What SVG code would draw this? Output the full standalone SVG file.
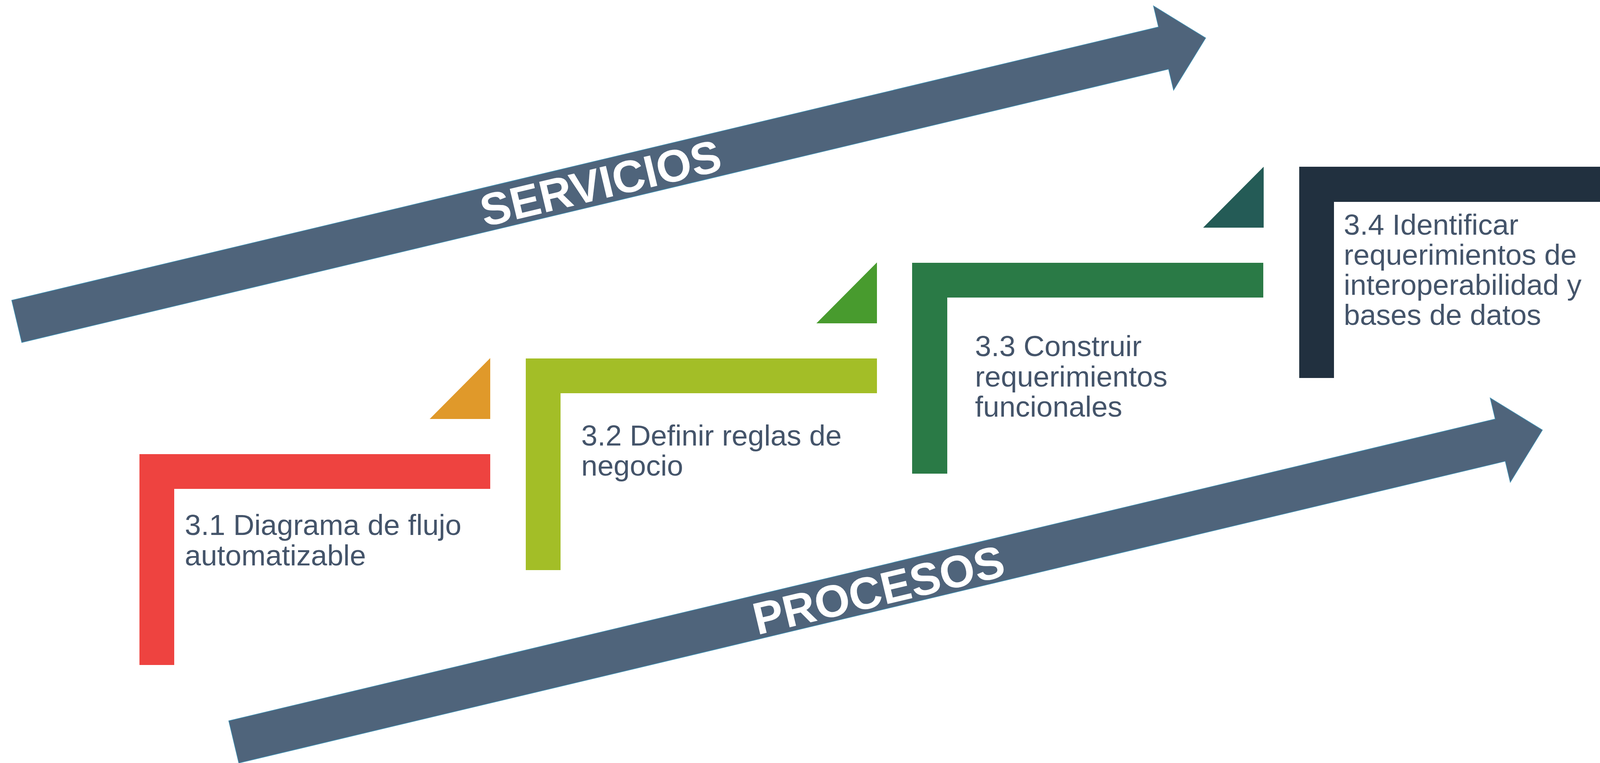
<svg xmlns="http://www.w3.org/2000/svg" width="4210" height="1954" viewBox="0 0 4210 1954">
  <style>
    .arrow { fill: #4F647B; stroke: #3E8DB0; stroke-width: 1.5; }
    .band { font-family: "Liberation Sans", Arial, sans-serif; font-weight: bold; font-size: 116px; fill: #FFFFFF; text-anchor: middle; }
    .lbl { font-family: "Liberation Sans", Arial, sans-serif; font-size: 74.5px; fill: #44546A; }
  </style>
  <rect x="0" y="0" width="4210" height="1954" fill="#FFFFFF"/>
  <g id="connectors">
    <g id="servicios" transform="translate(30,769) rotate(-13.41)">
      <polygon class="arrow" points="0,0 3018,0 3018,-55.5 3129,55.5 3018,166.5 3018,111 0,111"/>
      <text class="band" x="1536" y="98">SERVICIOS</text>
    </g>
    <g id="procesos" transform="translate(892,1773) rotate(-13.41)">
      <polygon class="arrow" points="-315,0 3018,0 3018,-55.5 3129,55.5 3018,166.5 3018,111 -315,111"/>
      <text class="band" x="1381" y="100">PROCESOS</text>
    </g>
  </g>
  <g id="step31">
    <path d="M357,1163 H1255 V1252 H446 V1703 H357 Z" fill="#EE4340"/>
    <text class="lbl"><tspan x="473" y="1370">3.1 Diagrama de flujo</tspan><tspan x="473" y="1448">automatizable</tspan></text>
  </g>
  <g id="tri1"><path d="M1100,1073 L1255,917 L1255,1073 Z" fill="#E0992A"/></g>
  <g id="step32">
    <path d="M1346,918 H2245 V1007 H1435 V1460 H1346 Z" fill="#A3BE27"/>
    <text class="lbl"><tspan x="1488" y="1141">3.2 Definir reglas de</tspan><tspan x="1488" y="1218">negocio</tspan></text>
  </g>
  <g id="tri2"><path d="M2090,828 L2245,672 L2245,828 Z" fill="#489B2E"/></g>
  <g id="step33">
    <path d="M2335,673 H3234 V762 H2425 V1213 H2335 Z" fill="#2A7A46"/>
    <text class="lbl"><tspan x="2496" y="912">3.3 Construir</tspan><tspan x="2496" y="990">requerimientos</tspan><tspan x="2496" y="1067">funcionales</tspan></text>
  </g>
  <g id="tri3"><path d="M3080,583 L3235,427 L3235,583 Z" fill="#245B56"/></g>
  <g id="step34">
    <path d="M3326,427 H4210 V517 H3415 V968 H3326 Z" fill="#21303F"/>
    <text class="lbl"><tspan x="3440" y="601">3.4 Identificar</tspan><tspan x="3440" y="678">requerimientos de</tspan><tspan x="3440" y="755">interoperabilidad y</tspan><tspan x="3440" y="832">bases de datos</tspan></text>
  </g>
</svg>
